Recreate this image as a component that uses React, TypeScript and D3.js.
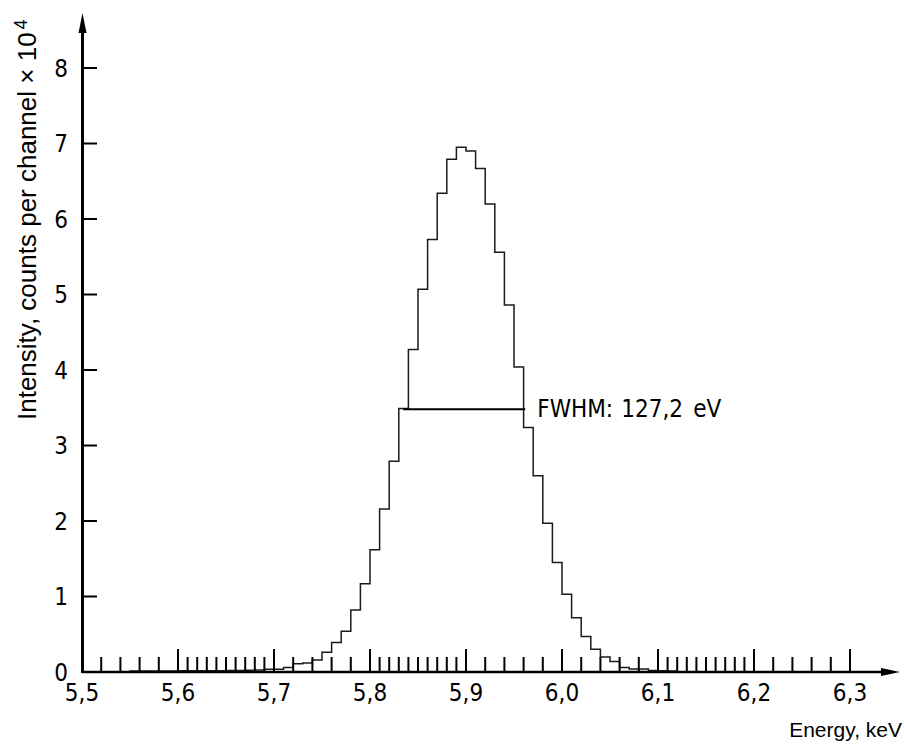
import React from "react";
import * as d3 from "d3";

// Channel lower edges (keV), bin width 0.01 keV
const energies = [
  5.55, 5.56, 5.57, 5.58, 5.59, 5.6, 5.61, 5.62, 5.63, 5.64, 5.65, 5.66, 5.67, 5.68, 5.69,
  5.7, 5.71, 5.72, 5.73, 5.74, 5.75, 5.76, 5.77, 5.78, 5.79, 5.8, 5.81, 5.82, 5.83, 5.84,
  5.85, 5.86, 5.87, 5.88, 5.89, 5.9, 5.91, 5.92, 5.93, 5.94, 5.95, 5.96, 5.97, 5.98, 5.99,
  6.0, 6.01, 6.02, 6.03, 6.04, 6.05, 6.06, 6.07, 6.08, 6.09, 6.1, 6.11,
];
// Counts per channel (x 10^4)
const counts = [
  0.012, 0.012, 0.013, 0.013, 0.014, 0.015, 0.015, 0.016, 0.017, 0.018, 0.019, 0.02, 0.022, 0.025, 0.035,
  0.037, 0.06, 0.11, 0.12, 0.16, 0.26, 0.39, 0.54, 0.82, 1.17, 1.62, 2.16, 2.79, 3.49, 4.27,
  5.07, 5.73, 6.34, 6.79, 6.95, 6.9, 6.67, 6.2, 5.56, 4.86, 4.04, 3.24, 2.6, 1.97, 1.45,
  1.03, 0.72, 0.47, 0.3, 0.2, 0.14, 0.06, 0.04, 0.04, 0.02, 0.015, 0.012,
];
const binWidth = 0.01;

const majorTicks = [5.5, 5.6, 5.7, 5.8, 5.9, 6.0, 6.1, 6.2, 6.3];
const majorLabels = ["5,5", "5,6", "5,7", "5,8", "5,9", "6,0", "6,1", "6,2", "6,3"];
const minorSteps = [0.02, 0.01, 0.02, 0.01, 0.02, 0.02, 0.01, 0.02];
const yTicks = [0, 1, 2, 3, 4, 5, 6, 7, 8];

const fwhmLevel = 3.48;
const fwhmLeft = 5.8345;
const fwhmKeV = 0.1272;
const fwhmLabel = ["FWHM:", "127,2", "eV"];

const W = 904;
const H = 749;
const x0 = 82;
const y0 = 672;

const xScale = d3.scaleLinear().domain([5.5, 6.3]).range([x0, 850]);
const yScale = d3.scaleLinear().domain([0, 8]).range([y0, 68]);

const tickFont = "'Liberation Sans Narrow', 'DejaVu Sans Condensed', 'Arial Narrow', sans-serif";
const labelFont = "'Liberation Sans', Arial, sans-serif";

export default function App() {
  const minorTicks: number[] = [];
  for (let i = 0; i < majorTicks.length - 1; i++) {
    const a = majorTicks[i];
    const step = minorSteps[i];
    const n = Math.round(0.1 / step);
    for (let k = 1; k < n; k++) minorTicks.push(a + k * step);
  }

  const pts: [number, number][] = [[energies[0], 0]];
  energies.forEach((e, i) => pts.push([e, counts[i]]));
  const last = energies[energies.length - 1] + binWidth;
  pts.push([last, counts[counts.length - 1]]);
  pts.push([last, 0]);

  const line = d3
    .line<[number, number]>()
    .x((d) => xScale(d[0]))
    .y((d) => yScale(d[1]))
    .curve(d3.curveStepAfter);

  const fwhmX1 = xScale(fwhmLeft);
  const fwhmX2 = xScale(fwhmLeft + fwhmKeV);
  const fwhmY = yScale(fwhmLevel);
  const fx = fwhmX2 + 12;

  const xAxisEnd = 900;
  const yAxisTop = 13;

  return (
    <div style={{ position: "absolute", left: 0, top: 0 }}>
      <svg width={W} height={H} style={{ display: "block", background: "#fff" }}>
        {/* histogram */}
        <path d={line(pts) || ""} fill="none" stroke="#1a1a1a" strokeWidth={1.5} />

        {/* FWHM */}
        <line x1={fwhmX1} x2={fwhmX2} y1={fwhmY} y2={fwhmY} stroke="#000" strokeWidth={2} />
        <text x={fx} y={fwhmY + 8} fontFamily={tickFont} fontSize={24} fill="#000">
          <tspan x={fx}>{fwhmLabel[0]}</tspan>
          <tspan x={fx + 84}>{fwhmLabel[1]}</tspan>
          <tspan x={fx + 156}>{fwhmLabel[2]}</tspan>
        </text>

        {/* x axis */}
        <line x1={x0} x2={xAxisEnd - 14} y1={y0} y2={y0} stroke="#000" strokeWidth={2.5} />
        <path
          d={`M${xAxisEnd},${y0} L${xAxisEnd - 19},${y0 - 4} L${xAxisEnd - 19},${y0 + 4} Z`}
          fill="#000"
        />
        {minorTicks.map((t, i) => (
          <line
            key={"mi" + i}
            x1={xScale(t)}
            x2={xScale(t)}
            y1={y0}
            y2={y0 - 15}
            stroke="#000"
            strokeWidth={2}
          />
        ))}
        {majorTicks.map((t, i) => (
          <g key={"ma" + i}>
            {i > 0 && (
              <line x1={xScale(t)} x2={xScale(t)} y1={y0} y2={y0 - 23} stroke="#000" strokeWidth={2} />
            )}
            <text
              x={xScale(t)}
              y={701}
              textAnchor="middle"
              fontFamily={tickFont}
              fontSize={24}
              fill="#000"
            >
              {majorLabels[i]}
            </text>
          </g>
        ))}

        {/* y axis */}
        <line x1={x0 + 0.5} x2={x0 + 0.5} y1={y0 + 1} y2={yAxisTop + 14} stroke="#000" strokeWidth={3} />
        <path
          d={`M${x0 + 0.5},${yAxisTop} L${x0 - 3.5},${yAxisTop + 20} L${x0 + 4.5},${yAxisTop + 20} Z`}
          fill="#000"
        />
        {yTicks.map((t) => (
          <g key={"y" + t}>
            {t > 0 && (
              <line x1={x0} x2={x0 + 15} y1={yScale(t)} y2={yScale(t)} stroke="#000" strokeWidth={2} />
            )}
            <text
              x={68}
              y={yScale(t) + 8.5}
              textAnchor="end"
              fontFamily={tickFont}
              fontSize={24}
              fill="#000"
            >
              {t}
            </text>
          </g>
        ))}

        {/* axis titles */}
        <text
          transform="translate(36,420) rotate(-90)"
          fontFamily={labelFont}
          fontSize={26}
          fill="#000"
        >
          Intensity, counts per channel × 10
          <tspan dx={3} dy={-9} fontSize={18}>
            4
          </tspan>
        </text>
        <text x={902} y={737} textAnchor="end" fontFamily={labelFont} fontSize={21} fill="#000">
          Energy, keV
        </text>
      </svg>
    </div>
  );
}
